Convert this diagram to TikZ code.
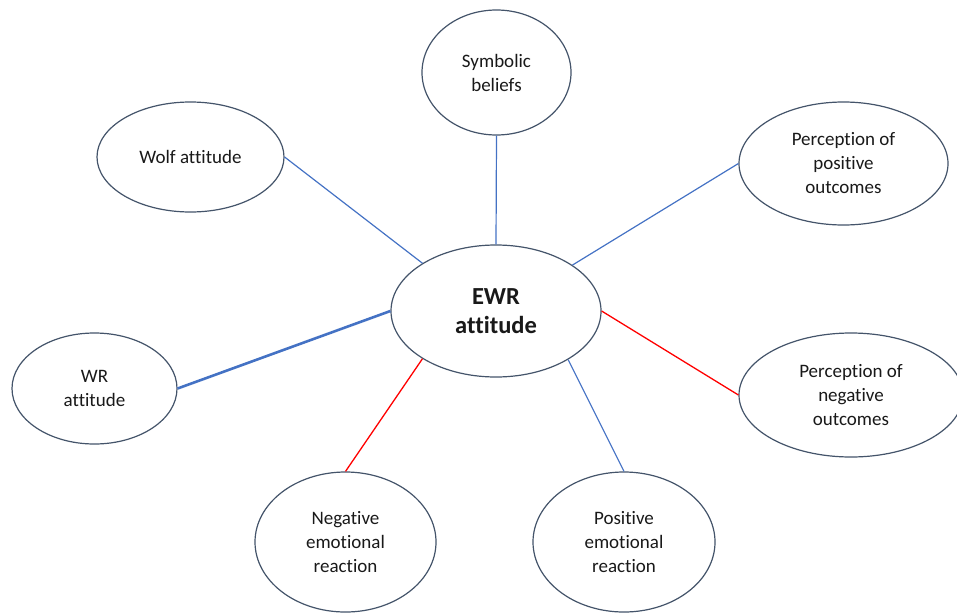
\documentclass[tikz,border=0pt]{standalone}
\usepackage{fontspec}
\setmainfont{Carlito}[Ligatures={NoCommon}]
\usetikzlibrary{shapes.geometric}
\definecolor{elline}{RGB}{68,84,106}
\definecolor{bluel}{RGB}{68,114,196}
\definecolor{redl}{RGB}{255,0,0}
\definecolor{txt}{RGB}{25,25,25}
\begin{document}
\begin{tikzpicture}[x=1pt,y=-1pt,
  oval/.style={ellipse,draw=elline,line width=1.2pt,fill=white,inner sep=0pt,align=center,text=txt,
    font=\fontsize{19}{24}\selectfont},
  bluelink/.style={draw=bluel,line width=1.2pt},
  boldblue/.style={draw=bluel,line width=2.6pt},
  redlink/.style={draw=redl,line width=1.3pt}]
\useasboundingbox (0,0) rectangle (957,613);
\node[oval,minimum width=149pt,minimum height=125pt] (sym) at (496.5,72.5) {Symbolic\\beliefs};
\node[oval,minimum width=187pt,minimum height=110pt] (wolf) at (190.5,157) {Wolf attitude};
\node[oval,minimum width=209pt,minimum height=123pt] (ppos) at (843.5,163.5) {Perception of\\positive\\outcomes};
\node[oval,minimum width=210pt,minimum height=132pt,font=\bfseries\fontsize{24.5}{29.5}\selectfont] (ewr) at (496,311) {EWR\\attitude};
\node[oval,minimum width=165pt,minimum height=111pt] (wr) at (94.5,388.5) {WR\\attitude};
\node[oval,minimum width=224pt,minimum height=124pt] (pneg) at (851,395) {Perception of\\negative\\outcomes};
\node[oval,minimum width=181pt,minimum height=140pt] (nemo) at (345.5,542) {Negative\\emotional\\reaction};
\node[oval,minimum width=182pt,minimum height=140pt] (pemo) at (624,542) {Positive\\emotional\\reaction};
\draw[bluelink] (sym.south) -- (ewr.north);
\draw[bluelink] (wolf.east) -- (ewr.147.7);
\draw[bluelink] (ppos.west) -- (ewr.31.9);
\draw[boldblue] (wr.east) -- (ewr.west);
\draw[redlink] (ewr.east) -- (pneg.west);
\draw[redlink] (ewr.213.5) -- (nemo.north);
\draw[bluelink] (ewr.326.5) -- (pemo.north);
\end{tikzpicture}
\end{document}
